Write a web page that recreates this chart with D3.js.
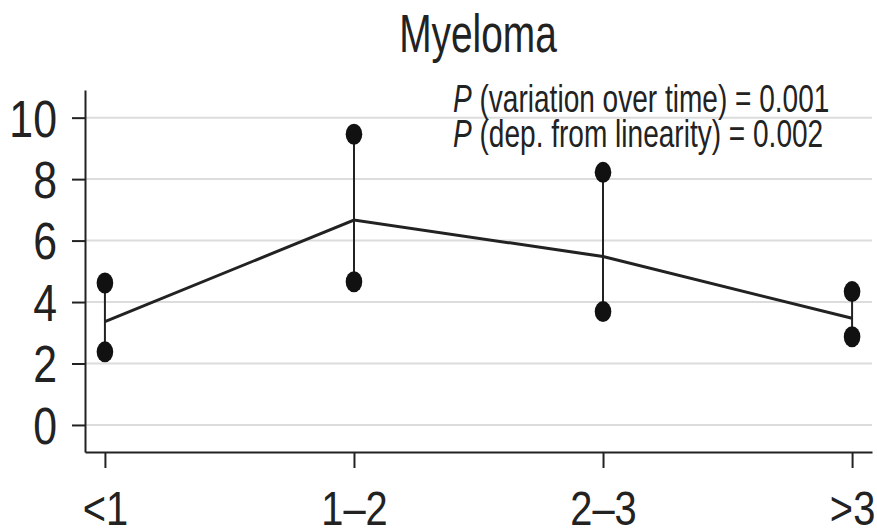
<!DOCTYPE html>
<html>
<head>
<meta charset="utf-8">
<script src="https://cdn.jsdelivr.net/npm/d3@7"></script>
<style>
  body { margin: 0; background: #fff; }
  text { font-family: "Liberation Sans", Arial, sans-serif; fill: #222; }
</style>
</head>
<body>
<div id="chart"></div>
<script>
// Data
const categories = ["<1", "1–2", "2–3", ">3"];
const estimate = [3.36, 6.67, 5.48, 3.47];
const lower = [2.38, 4.66, 3.69, 2.87];
const upper = [4.62, 9.46, 8.22, 4.34];
const yTicks = [0, 2, 4, 6, 8, 10];
const pLines = [
  ["P", " (variation over time) = 0.001"],
  ["P", " (dep. from linearity) = 0.002"]
];

const width = 877;
const height = 531;
const ink = "#222";

const svg = d3.select("#chart").append("svg")
  .attr("width", width)
  .attr("height", height);

// scales
const x = d3.scalePoint()
  .domain(categories)
  .range([85, 872])
  .padding(0.08);

const y = d3.scaleLinear()
  .domain([-0.88, 10.9])
  .range([452, 90]);

// grid lines
svg.append("g")
  .selectAll("line")
  .data(yTicks)
  .join("line")
  .attr("x1", 85)
  .attr("x2", 872)
  .attr("y1", (d) => y(d))
  .attr("y2", (d) => y(d))
  .attr("stroke", "#dcdcdc")
  .attr("stroke-width", 2);

// Y axis
const yAxis = svg.append("g")
  .attr("transform", "translate(85,0)")
  .call(d3.axisLeft(y).tickValues(yTicks).tickSize(13).tickSizeOuter(0));
yAxis.select(".domain").attr("stroke", ink).attr("stroke-width", 2);
yAxis.selectAll(".tick line").attr("stroke", ink).attr("stroke-width", 2);
yAxis.selectAll(".tick text")
  .attr("x", 0)
  .attr("dy", "0.36em")
  .attr("transform", "translate(-28,0) scale(0.84,1)")
  .style("font-size", "51px")
  .attr("fill", ink);

// X axis
const xAxis = svg.append("g")
  .attr("transform", `translate(0,${y.range()[0]})`)
  .call(d3.axisBottom(x).tickSize(16).tickSizeOuter(0));
xAxis.select(".domain").attr("stroke", ink).attr("stroke-width", 2);
xAxis.selectAll(".tick line").attr("stroke", ink).attr("stroke-width", 2);
xAxis.selectAll(".tick text")
  .attr("y", 0)
  .attr("dy", 0)
  .attr("transform", "translate(0,73) scale(0.83,1)")
  .style("font-size", "48px")
  .attr("fill", ink);

// error bars
svg.append("g")
  .selectAll("line")
  .data(categories)
  .join("line")
  .attr("x1", (d) => x(d))
  .attr("x2", (d) => x(d))
  .attr("y1", (d, i) => y(lower[i]))
  .attr("y2", (d, i) => y(upper[i]))
  .attr("stroke", ink)
  .attr("stroke-width", 2);

// trend line
svg.append("path")
  .datum(categories)
  .attr("fill", "none")
  .attr("stroke", ink)
  .attr("stroke-width", 3)
  .attr("d", d3.line()
    .x((d) => x(d))
    .y((d, i) => y(estimate[i])));

// end points
const ends = categories.flatMap((c, i) => [[c, lower[i]], [c, upper[i]]]);
svg.append("g")
  .selectAll("ellipse")
  .data(ends)
  .join("ellipse")
  .attr("cx", (d) => x(d[0]))
  .attr("cy", (d) => y(d[1]))
  .attr("rx", 8.3)
  .attr("ry", 10.5)
  .attr("fill", "#111");

// title
svg.append("text")
  .attr("transform", "translate(478,52) scale(0.72,1)")
  .attr("text-anchor", "middle")
  .style("font-size", "54px")
  .text("Myeloma");

// p-values
pLines.forEach((p, i) => {
  const t = svg.append("text")
    .attr("transform", `translate(453,${112 + i * 35}) scale(0.71,1)`)
    .style("font-size", "39.5px");
  t.append("tspan").style("font-style", "italic").text(p[0]);
  t.append("tspan").text(p[1]);
});
</script>
</body>
</html>
